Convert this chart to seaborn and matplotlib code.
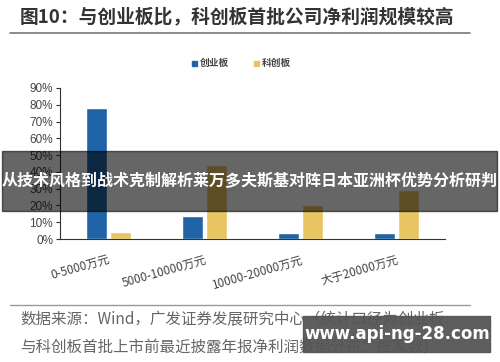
import matplotlib
matplotlib.use("Agg")
import matplotlib.pyplot as plt
import seaborn as sns
import pandas as pd
from matplotlib.patches import Rectangle

categories = ['0-5000万元', '5000-10000万元', '10000-20000万元', '大于20000万元']
chuangye = [0.78, 0.14, 0.037, 0.037]
kechuang = [0.04, 0.44, 0.20, 0.29]
series_names = ['创业板', '科创板']
yticks = [0, 0.1, 0.2, 0.3, 0.4, 0.5, 0.6, 0.7, 0.8, 0.9]

df = pd.DataFrame({
    'cat': categories * 2,
    'val': chuangye + kechuang,
    'board': [series_names[0]] * 4 + [series_names[1]] * 4,
})

sns.set_style('white')
plt.rcParams['font.family'] = ['Noto Sans CJK SC', 'DejaVu Sans']

fig = plt.figure(figsize=(5, 3.62), dpi=100)
W, H = 500, 362
ax = fig.add_axes([60 / W, 1 - 239 / H, 385 / W, 151 / H])

sns.barplot(data=df, x='cat', y='val', hue='board', ax=ax,
            palette=['#1f64a6', '#e8c462'], width=0.5, gap=0.12,
            saturation=1, legend=False)

ax.set_ylim(0, 0.9)
ax.set_xlim(-0.5, 3.5)
ax.set_yticks(yticks)
ax.set_yticklabels([f'{int(round(v * 100))}%' for v in yticks],
                   fontsize=8.5, color='#444', family=['Liberation Sans', 'DejaVu Sans'])
ax.set_xticks(range(4))
ax.set_xticklabels(categories, rotation=16, ha='right', rotation_mode='anchor',
                   fontsize=8.5, color='#444')
ax.set_xticks([-0.5, 0.5, 1.5, 2.5, 3.5], minor=True)
ax.tick_params(axis='x', which='major', length=0, pad=10)
ax.tick_params(axis='x', which='minor', length=3, color='#333', direction='out')
ax.tick_params(axis='y', length=3, color='#333', direction='out', left=True, pad=2)
ax.set_xlabel('')
ax.set_ylabel('')
for s in ['top', 'right']:
    ax.spines[s].set_visible(False)
for s in ['left', 'bottom']:
    ax.spines[s].set_color('#333')
    ax.spines[s].set_linewidth(0.8)

# legend
fig.patches.append(Rectangle((192 / W, 1 - 66 / H), 5 / W, 5 / H, color='#1f64a6', transform=fig.transFigure))
fig.text(200 / W, 1 - 63 / H, series_names[0], fontsize=7, color='#444', va='center', weight='bold')
fig.patches.append(Rectangle((254 / W, 1 - 66 / H), 5 / W, 5 / H, color='#e8c462', transform=fig.transFigure))
fig.text(262 / W, 1 - 63 / H, series_names[1], fontsize=7, color='#444', va='center', weight='bold')

# title and rules
fig.text(20 / W, 1 - 17 / H, '图10：与创业板比，科创板首批公司净利润规模较高',
         fontsize=13.5, weight='bold', color='#333', va='center')
fig.add_artist(plt.Line2D([10 / W, 470 / W], [1 - 33 / H] * 2, color='#777', lw=1.2))
fig.add_artist(plt.Line2D([10 / W, 470 / W], [1 - 305 / H] * 2, color='#999', lw=1))

fig.text(20 / W, 1 - 320 / H, '数据来源：Wind，广发证券发展研究中心（统计口径为创业板',
         fontsize=11.2, color='#666', va='center')
fig.text(20 / W, 1 - 348 / H, '与科创板首批上市前最近披露年报净利润数据分布：按家数）',
         fontsize=11.2, color='#666', va='center')

# overlays
fig.patches.append(Rectangle((2 / W, 1 - 211 / H), 495 / W, 60 / H, color='black', alpha=0.6,
                             transform=fig.transFigure, zorder=10))
fig.text(250 / W, 1 - 181 / H, '从技术风格到战术克制解析莱万多夫斯基对阵日本亚洲杯优势分析研判',
         fontsize=11.5, weight='bold', color='white', ha='center', va='center', zorder=11)
fig.patches.append(Rectangle((303 / W, 1 - 352 / H), 187 / W, 36 / H, color='#555', alpha=0.95,
                             transform=fig.transFigure, zorder=10))
fig.text(397 / W, 1 - 334 / H, 'www.api-ng-28.com', fontsize=12, weight='bold', color='white',
         ha='center', va='center', zorder=11, family=['DejaVu Sans'])

fig.savefig('out.png', dpi=100)
